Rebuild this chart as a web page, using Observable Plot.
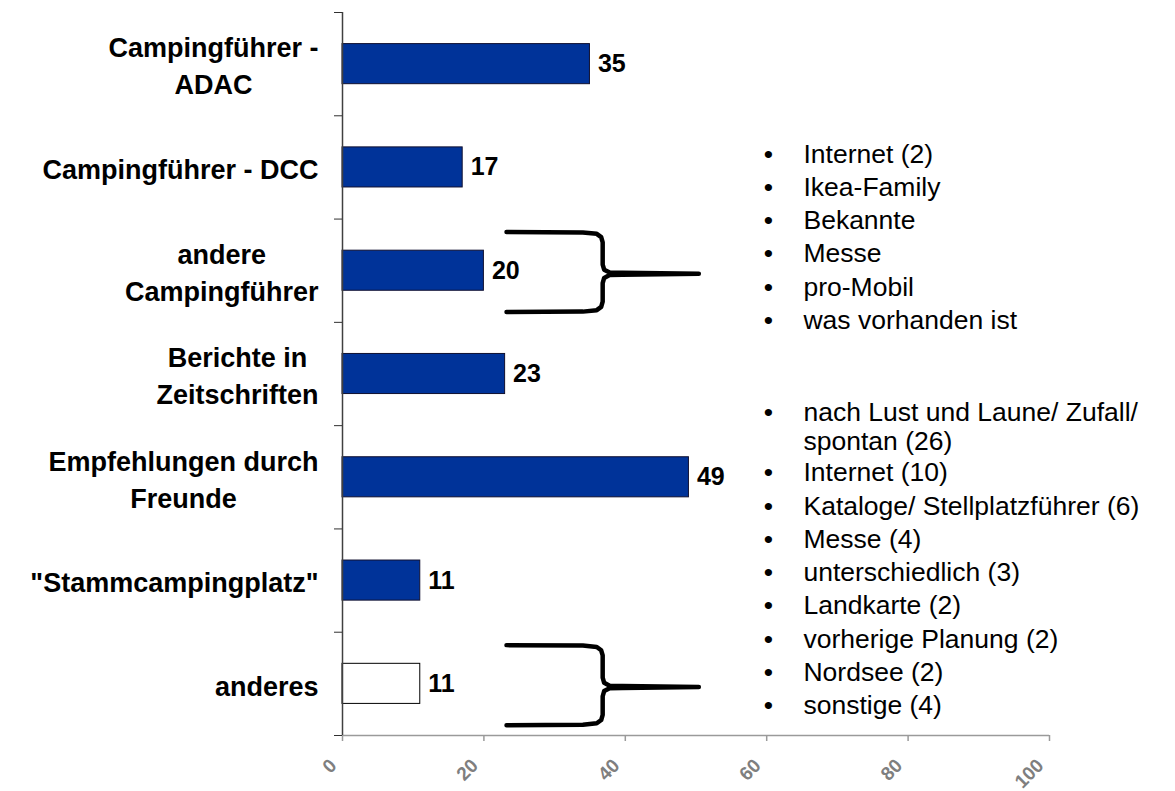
<!DOCTYPE html>
<html>
<head>
<meta charset="utf-8">
<script src="https://cdn.jsdelivr.net/npm/d3@7"></script>
<script src="https://cdn.jsdelivr.net/npm/@observablehq/plot@0.6"></script>
<style>
  html, body { margin: 0; padding: 0; background: #fff; }
  #chart svg { display: block; }
</style>
</head>
<body>
<div id="chart"></div>
<script>
// ---- data ----
const categories = [
  "Campingführer -\nADAC",
  "Campingführer - DCC",
  "andere\nCampingführer",
  "Berichte in\nZeitschriften",
  "Empfehlungen durch\nFreunde",
  "\"Stammcampingplatz\"",
  "anderes"
];
const values = [35, 17, 20, 23, 49, 11, 11];
const xTicks = [0, 20, 40, 60, 80, 100];
const otherLabel = "anderes";
const braceTargets = ["andere\nCampingführer", "anderes"];
const guideNotes = ["Internet (2)", "Ikea-Family", "Bekannte", "Messe", "pro-Mobil", "was vorhanden ist"];
const otherNotes = [
  ["nach Lust und Laune/ Zufall/", "spontan (26)"],
  ["Internet (10)"],
  ["Kataloge/ Stellplatzführer (6)"],
  ["Messe (4)"],
  ["unterschiedlich (3)"],
  ["Landkarte (2)"],
  ["vorherige Planung (2)"],
  ["Nordsee (2)"],
  ["sonstige (4)"]
];

// ---- layout / style ----
const W = 1175, H = 791;
const FONT = "'Liberation Sans', Arial, Helvetica, sans-serif";
const BLUE = "#003399";
const LABEL_SIZE = 27;
const VALUE_SIZE = 25;
const NOTE_SIZE = 26.5;
const BAND_PX = (H - 56 - 12) / categories.length;
const ITEM_STEP = 33.3 / BAND_PX;
const WRAP_STEP = 29.5 / BAND_PX;
const AFTER_WRAP_STEP = 31 / BAND_PX;

const rows = categories.map((c, i) => ({category: c, value: values[i], index: i}));

const ctx = document.createElement("canvas").getContext("2d");
function measure(s, font) { ctx.font = font; return ctx.measureText(s).width; }

// category labels: centered multi-line blocks whose widest line ends left of the axis
const labelMarks = rows.map(r => {
  const w = d3.max(r.category.split("\n"), l => measure(l, `bold ${LABEL_SIZE}px ${FONT}`));
  return Plot.text([r], {
    x: () => 0, y: d => d.index + 0.5, text: "category",
    textAnchor: "middle", lineAnchor: "middle", dx: -24 - w / 2,
    fontSize: LABEL_SIZE, fontWeight: "bold", lineHeight: 37 / LABEL_SIZE, fill: "#000"
  });
});

// notes lists: one row per printed line, bullet only on the first line of an item
function noteRows(notes, top) {
  let y = top;
  const out = [];
  notes.forEach(item => {
    const lines = Array.isArray(item) ? item : [item];
    lines.forEach((t, j) => {
      out.push({text: t, y, bullet: j === 0});
      if (j < lines.length - 1) y += WRAP_STEP;
    });
    y += lines.length > 1 ? AFTER_WRAP_STEP : ITEM_STEP;
  });
  return out;
}
const notesAll = noteRows(guideNotes, 1.27).concat(noteRows(otherNotes, 3.77));

// braces
function brace(b, id) {
  const x0 = 23.2, xc = 36.8, xt = 50.4;
  const yt = b + 0.125, ym = b + 0.53, yb = b + 0.9;
  const rx = 1.4, ry = 0.1;
  const pts = [
    [x0, yt], [xc - 2 * rx, yt + 0.004], [xc - rx * 0.6, yt + 0.018], [xc - rx * 0.15, yt + 0.05], [xc, yt + ry],
    [xc, ym - ry * 0.9], [xc + rx * 0.15, ym - ry * 0.4], [xc + rx * 0.7, ym - ry * 0.12], [xc + 2 * rx, ym - 0.01], [xt, ym],
    [xc + 2 * rx, ym + 0.01], [xc + rx * 0.7, ym + ry * 0.12], [xc + rx * 0.15, ym + ry * 0.4], [xc, ym + ry * 0.9],
    [xc, yb - ry], [xc - rx * 0.15, yb - 0.05], [xc - rx * 0.6, yb - 0.018], [xc - 2 * rx, yb - 0.004], [x0, yb]
  ];
  return pts.map(([x, y]) => ({x, y, id}));
}
const braceData = braceTargets.flatMap((c, k) => brace(categories.indexOf(c), k));

const chart = Plot.plot({
  width: W,
  height: H,
  marginTop: 12,
  marginBottom: 56,
  marginLeft: 342,
  marginRight: 126,
  style: {fontFamily: FONT, background: "#fff", color: "#000", overflow: "visible"},
  x: {domain: [0, 100]},
  y: {type: "linear", domain: [0, categories.length], reverse: true},
  marks: [
    // bars
    Plot.rect(rows, {
      filter: d => d.category !== otherLabel,
      x1: () => 0, x2: "value", y1: "index", y2: d => d.index + 1,
      insetTop: 31.6, insetBottom: 31.6,
      fill: BLUE, stroke: "#101030", strokeWidth: 1
    }),
    Plot.rect(rows, {
      filter: d => d.category === otherLabel,
      x1: () => 0, x2: "value", y1: "index", y2: d => d.index + 1,
      insetTop: 31.6, insetBottom: 31.6,
      fill: "#fff", stroke: "#000", strokeWidth: 1
    }),
    // axes
    Plot.ruleY([categories.length], {stroke: "#9a9a9a", strokeWidth: 1.5}),
    Plot.axisX({ticks: xTicks, tickSize: 6, stroke: "#9a9a9a", fill: "none", strokeWidth: 1.5}),
    Plot.text(xTicks, {
      x: d => d, frameAnchor: "bottom", text: d => String(d),
      rotate: -45, textAnchor: "end", lineAnchor: "middle", dx: -9, dy: 27,
      fontSize: 19, fontWeight: "bold", fill: "#7f7f7f"
    }),
    Plot.ruleX([0], {stroke: "#404040", strokeWidth: 1.5}),
    Plot.axisY({ticks: d3.range(categories.length + 1), tickSize: 8, stroke: "#303030", fill: "none", label: null}),
    // labels
    ...labelMarks,
    Plot.text(rows, {
      x: "value", y: d => d.index + 0.5, text: d => String(d.value),
      textAnchor: "start", dx: 8, fontSize: VALUE_SIZE, fontWeight: "bold", fill: "#000"
    }),
    // braces
    Plot.line(braceData, {
      x: "x", y: "y", z: "id", stroke: "#000", strokeWidth: 4.5,
      strokeLinejoin: "round", strokeLinecap: "round", curve: "linear"
    }),
    // notes
    Plot.text(notesAll.filter(d => d.bullet), {
      x: () => 60.25, y: "y", text: () => "•", textAnchor: "middle", lineAnchor: "top",
      fontSize: NOTE_SIZE, fill: "#000"
    }),
    Plot.text(notesAll, {
      x: () => 65.2, y: "y", text: "text", textAnchor: "start", lineAnchor: "top",
      fontSize: NOTE_SIZE, fill: "#000"
    })
  ]
});
document.getElementById("chart").appendChild(chart);
</script>
</body>
</html>
